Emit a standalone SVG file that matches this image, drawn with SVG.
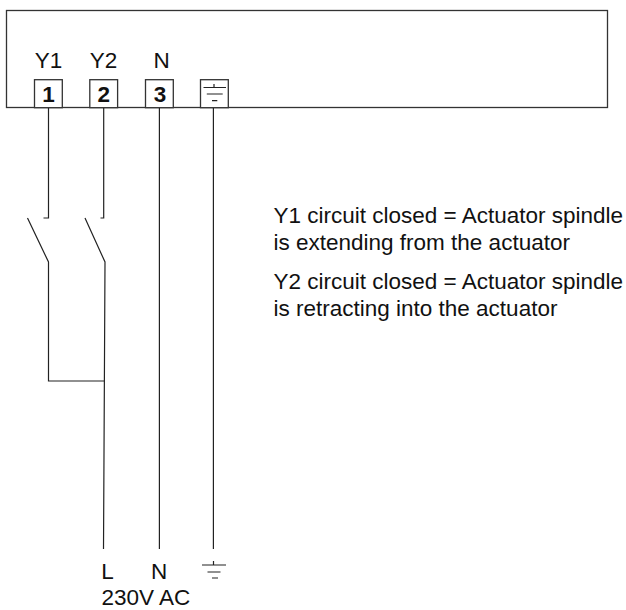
<svg xmlns="http://www.w3.org/2000/svg" width="626" height="610" viewBox="0 0 626 610">
<style>
text{font-family:"Liberation Sans",Arial,sans-serif;font-size:22.5px;fill:#111}
.c{text-anchor:middle}
.b{font-weight:bold}
.box{fill:#fff;stroke:#333;stroke-width:1.3}
.w{fill:none;stroke:#222;stroke-width:1.2}
</style>
<rect width="626" height="610" fill="#fff"/>
<g id="actuator"><rect class="box" x="6.500" y="10.500" width="601" height="97"/></g>
<g id="label-y1"><text class="c" x="48.500" y="67.500">Y1</text></g>
<g id="label-y2"><text class="c" x="103.500" y="67.500">Y2</text></g>
<g id="label-n"><text class="c" x="161.500" y="67.500">N</text></g>
<g id="terminal-1"><rect class="box" x="34.500" y="79.700" width="27.800" height="28"/><text class="c b" x="48.500" y="101.700">1</text></g>
<g id="terminal-2"><rect class="box" x="89.800" y="79.700" width="27.800" height="28"/><text class="c b" x="103.700" y="101.700">2</text></g>
<g id="terminal-3"><rect class="box" x="145.500" y="79.700" width="27.800" height="28"/><text class="c b" x="160" y="101.700">3</text></g>
<g id="terminal-earth"><rect class="box" x="200.500" y="79.700" width="27.800" height="28"/><path class="w" d="M214 84V87.500M203.500 87.500H226M206.800 94H222.700M212 100.700H217.300"/></g>
<g id="connectors">
<path class="w" d="M48.500 108V218H43.500"/>
<path class="w" d="M103.700 108V218H100.500"/>
<path class="w" d="M27.500 218L48.500 262V381H105"/>
<path class="w" d="M85 218L105 262L103.500 549"/>
<path class="w" d="M159.400 108V549"/>
<path class="w" d="M213.400 108V549"/>
</g>
<g id="earth-bottom"><path class="w" d="M213.500 561V565M202 565H226M207.500 572H220.500M212 578H218"/></g>
<g id="label-l"><text class="c" x="107.500" y="578.700">L</text></g>
<g id="label-n2"><text class="c" x="159" y="578.700">N</text></g>
<g id="label-voltage"><text x="101.500" y="604.700">230V AC</text></g>
<g id="notes">
<text x="273.500" y="222.500">Y1 circuit closed = Actuator spindle</text>
<text x="273.500" y="249.500">is extending from the actuator</text>
<text x="273.500" y="288.500">Y2 circuit closed = Actuator spindle</text>
<text x="273.500" y="315.500">is retracting into the actuator</text>
</g>
</svg>
